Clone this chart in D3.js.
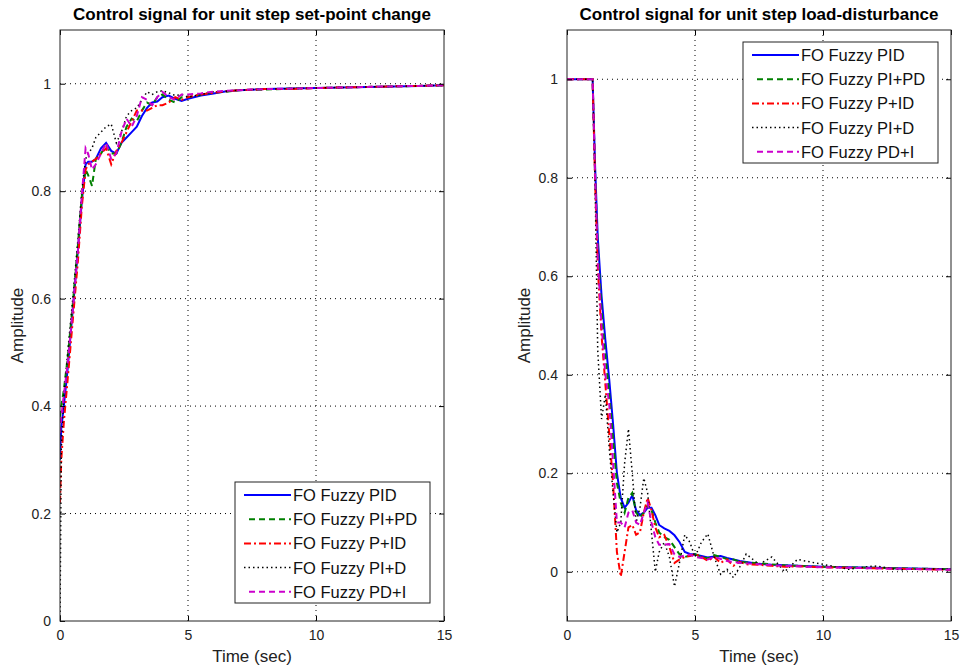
<!DOCTYPE html>
<html>
<head>
<meta charset="utf-8">
<script src="https://cdn.jsdelivr.net/npm/d3@7"></script>
<style>
  body { margin: 0; background: #fff; }
  svg { font-family: "Liberation Sans", Arial, sans-serif; }
  .tick text { font-size: 14px; fill: #222; }
  .title { font-size: 17px; font-weight: bold; }
  .axlabel { font-size: 17px; fill: #222; }
  .legend text { font-size: 16.5px; fill: #111; }
</style>
</head>
<body>
<script>
// series names, shared by both panels
const names = ['FO Fuzzy PID', 'FO Fuzzy PI+PD', 'FO Fuzzy P+ID', 'FO Fuzzy PI+D', 'FO Fuzzy PD+I']

// set-point change (left panel)
const tSet = [0, 0.05, 0.15, 0.3, 0.5, 0.7, 0.85, 1.0, 1.1, 1.25, 1.4, 1.6, 1.8, 2.0, 2.2, 2.4, 2.6, 2.8, 3.0, 3.2,
  3.4, 3.6, 3.8, 4.0, 4.25, 4.5, 4.75, 5.0, 5.5, 6, 6.5, 7, 8, 9, 10, 11, 12, 13, 14, 15]
const setPID = [0.30, 0.36, 0.40, 0.47, 0.58, 0.69, 0.78, 0.85, 0.855, 0.855, 0.86, 0.88, 0.89, 0.875, 0.87, 0.89, 0.90, 0.91, 0.92, 0.94,
  0.955, 0.965, 0.967, 0.975, 0.978, 0.972, 0.968, 0.972, 0.978, 0.982, 0.986, 0.988, 0.99, 0.991, 0.992, 0.993, 0.994, 0.995, 0.996, 0.997]
const setPIPD = [0.38, 0.40, 0.43, 0.49, 0.59, 0.70, 0.79, 0.84, 0.83, 0.81, 0.86, 0.87, 0.885, 0.87, 0.87, 0.89, 0.92, 0.935, 0.93, 0.95,
  0.965, 0.96, 0.975, 0.98, 0.97, 0.965, 0.975, 0.975, 0.98, 0.984, 0.985, 0.988, 0.989, 0.991, 0.992, 0.993, 0.994, 0.995, 0.996, 0.997]
const setPID2 = [0.22, 0.30, 0.37, 0.45, 0.56, 0.67, 0.77, 0.84, 0.85, 0.855, 0.86, 0.87, 0.88, 0.85, 0.875, 0.89, 0.91, 0.93, 0.95, 0.95,
  0.95, 0.955, 0.96, 0.96, 0.965, 0.975, 0.97, 0.975, 0.98, 0.983, 0.986, 0.988, 0.99, 0.99, 0.992, 0.993, 0.994, 0.995, 0.996, 0.997]
const setPID3 = [0.0, 0.32, 0.42, 0.50, 0.60, 0.71, 0.80, 0.86, 0.87, 0.88, 0.90, 0.91, 0.92, 0.925, 0.89, 0.91, 0.94, 0.95, 0.955, 0.97,
  0.985, 0.98, 0.985, 0.987, 0.983, 0.978, 0.98, 0.975, 0.98, 0.985, 0.986, 0.988, 0.99, 0.991, 0.992, 0.993, 0.994, 0.995, 0.996, 0.997]
const setPDI = [0.35, 0.38, 0.42, 0.48, 0.58, 0.69, 0.79, 0.88, 0.87, 0.84, 0.85, 0.87, 0.89, 0.86, 0.87, 0.91, 0.935, 0.92, 0.94, 0.975,
  0.97, 0.96, 0.975, 0.985, 0.975, 0.97, 0.98, 0.98, 0.982, 0.985, 0.987, 0.988, 0.99, 0.991, 0.992, 0.993, 0.994, 0.995, 0.996, 0.997]

// load disturbance (right panel)
const tLoad = [0, 1.0, 1.1, 1.2, 1.35, 1.5, 1.65, 1.8, 1.95, 2.1, 2.25, 2.4, 2.55, 2.7, 2.85, 3.0, 3.15, 3.3, 3.45, 3.6,
  3.8, 4.0, 4.2, 4.4, 4.6, 4.8, 5.0, 5.25, 5.5, 5.75, 6.0, 6.25, 6.5, 6.75, 7.0, 7.5, 8, 8.5, 9, 10, 11, 12, 13, 14, 15]
const loadPID = [1, 1, 0.82, 0.68, 0.56, 0.47, 0.39, 0.30, 0.20, 0.15, 0.13, 0.14, 0.155, 0.125, 0.115, 0.12, 0.13, 0.13, 0.115, 0.095,
  0.088, 0.083, 0.074, 0.06, 0.04, 0.036, 0.035, 0.032, 0.029, 0.031, 0.032, 0.028, 0.025, 0.022, 0.02, 0.016, 0.014, 0.013, 0.012, 0.01, 0.009, 0.008, 0.007, 0.006, 0.005]
const loadPIPD = [1, 1, 0.80, 0.66, 0.53, 0.44, 0.36, 0.27, 0.18, 0.14, 0.12, 0.15, 0.16, 0.12, 0.11, 0.12, 0.135, 0.125, 0.10, 0.08,
  0.07, 0.065, 0.05, 0.035, 0.03, 0.033, 0.036, 0.03, 0.027, 0.034, 0.03, 0.026, 0.025, 0.02, 0.019, 0.017, 0.015, 0.013, 0.012, 0.01, 0.009, 0.008, 0.007, 0.006, 0.005]
const loadPID2 = [1, 1, 0.79, 0.62, 0.48, 0.38, 0.28, 0.18, 0.04, -0.01, 0.04, 0.09, 0.095, 0.075, 0.08, 0.12, 0.15, 0.125, 0.09, 0.07,
  0.075, 0.05, 0.018, 0.025, 0.03, 0.032, 0.036, 0.03, 0.022, 0.03, 0.018, 0.025, 0.012, 0.02, 0.015, 0.014, 0.012, 0.01, 0.011, 0.009, 0.008, 0.007, 0.006, 0.005, 0.004]
const loadPID3 = [1, 1, 0.78, 0.45, 0.31, 0.36, 0.25, 0.16, 0.08, 0.10, 0.22, 0.29, 0.2, 0.10, 0.13, 0.19, 0.16, 0.08, 0.0, 0.04,
  0.06, 0.03, -0.03, 0.02, 0.075, 0.06, 0.03, 0.06, 0.077, 0.03, -0.005, 0.005, -0.012, 0.01, 0.036, 0.015, 0.03, 0.0, 0.025, 0.015, 0.005, 0.012, 0.004, 0.006, 0.005]
const loadPDI = [1, 1, 0.80, 0.64, 0.50, 0.40, 0.34, 0.22, 0.10, 0.10, 0.09, 0.12, 0.125, 0.10, 0.095, 0.12, 0.14, 0.10, 0.07, 0.055,
  0.055, 0.056, 0.035, 0.03, 0.033, 0.035, 0.03, 0.028, 0.025, 0.03, 0.026, 0.022, 0.02, 0.018, 0.017, 0.015, 0.013, 0.012, 0.011, 0.009, 0.008, 0.007, 0.006, 0.005, 0.004]

const xTicks = [0, 5, 10, 15]
const yTicks = [0, 0.2, 0.4, 0.6, 0.8, 1]

const styles = [
  { color: '#0000ff', dash: null, width: 2 },
  { color: '#008000', dash: '6,4', width: 2 },
  { color: '#ff0000', dash: '7,3,2,3', width: 2 },
  { color: '#000000', dash: '1.5,3', width: 1.5 },
  { color: '#cc00cc', dash: '6,4', width: 2 }
]

const width = 961
const height = 670

const svg = d3.select('body').append('svg')
  .attr('width', width)
  .attr('height', height)

function panel(opts) {
  const { left, right, top, bottom, ydomain, t, series, title, legend } = opts

  const x = d3.scaleLinear().domain([0, 15]).range([left, right])
  const y = d3.scaleLinear().domain(ydomain).range([bottom, top])

  const g = svg.append('g')

  // dotted grid
  g.append('g').selectAll('line.gx')
    .data(xTicks.slice(1, -1))
    .join('line')
      .attr('x1', d => x(d)).attr('x2', d => x(d))
      .attr('y1', top).attr('y2', bottom)
      .attr('stroke', '#000').attr('stroke-width', 1)
      .attr('stroke-dasharray', '1,4')
  g.append('g').selectAll('line.gy')
    .data(yTicks.filter(d => d > ydomain[0] && d < ydomain[1]))
    .join('line')
      .attr('x1', left).attr('x2', right)
      .attr('y1', d => y(d)).attr('y2', d => y(d))
      .attr('stroke', '#000').attr('stroke-width', 1)
      .attr('stroke-dasharray', '1,4')

  // lines
  const line = d3.line()
    .x((d, i) => x(t[i]))
    .y(d => y(d))

  const clipId = 'clip' + left
  svg.append('clipPath').attr('id', clipId)
    .append('rect').attr('x', left).attr('y', top)
    .attr('width', right - left).attr('height', bottom - top)

  g.append('g').attr('clip-path', 'url(#' + clipId + ')')
    .selectAll('path')
    .data(series)
    .join('path')
      .attr('d', d => line(d))
      .attr('fill', 'none')
      .attr('stroke', (d, i) => styles[i].color)
      .attr('stroke-width', (d, i) => styles[i].width)
      .attr('stroke-dasharray', (d, i) => styles[i].dash)

  // axes (inward ticks, mirrored)
  const ax = g.append('g').attr('transform', 'translate(0,' + bottom + ')')
    .call(d3.axisBottom(x).tickValues(xTicks).tickSizeInner(-5).tickSizeOuter(0).tickPadding(9).tickFormat(d3.format('d')))
  const axTop = g.append('g').attr('transform', 'translate(0,' + top + ')')
    .call(d3.axisTop(x).tickValues(xTicks).tickSizeInner(-5).tickSizeOuter(0).tickFormat(''))
  const ay = g.append('g').attr('transform', 'translate(' + left + ',0)')
    .call(d3.axisLeft(y).tickValues(yTicks).tickSizeInner(-5).tickSizeOuter(0).tickPadding(9).tickFormat(d => d))
  const ayR = g.append('g').attr('transform', 'translate(' + right + ',0)')
    .call(d3.axisRight(y).tickValues(yTicks).tickSizeInner(-5).tickSizeOuter(0).tickFormat(''))
  ;[ax, axTop, ay, ayR].forEach(a => {
    a.select('.domain').remove()
    a.selectAll('.tick line').attr('stroke', '#000')
  })

  g.append('rect')
    .attr('x', left).attr('y', top)
    .attr('width', right - left).attr('height', bottom - top)
    .attr('fill', 'none').attr('stroke', '#222').attr('stroke-width', 1)

  g.append('text').attr('class', 'title')
    .attr('x', (left + right) / 2).attr('y', 20)
    .attr('text-anchor', 'middle')
    .text(title)

  g.append('text').attr('class', 'axlabel')
    .attr('x', (left + right) / 2).attr('y', 662)
    .attr('text-anchor', 'middle')
    .text('Time (sec)')

  g.append('text').attr('class', 'axlabel')
    .attr('transform', 'translate(' + (left - 37) + ',' + ((top + bottom) / 2) + ') rotate(-90)')
    .attr('text-anchor', 'middle')
    .text('Amplitude')

  // legend
  const lg = g.append('g').attr('class', 'legend')
  lg.append('rect')
    .attr('x', legend.x).attr('y', legend.y)
    .attr('width', 195).attr('height', 121)
    .attr('fill', '#fff').attr('stroke', '#222').attr('stroke-width', 1)
  const row = lg.selectAll('g.row')
    .data(names)
    .join('g')
      .attr('transform', (d, i) => 'translate(' + legend.x + ',' + (legend.y + 13 + i * 24.2) + ')')
  row.append('line')
    .attr('x1', (d, i) => (i === 1 || i === 4) ? 14 : 9).attr('x2', 56)
    .attr('stroke', (d, i) => styles[i].color)
    .attr('stroke-width', (d, i) => styles[i].width)
    .attr('stroke-dasharray', (d, i) => styles[i].dash)
  row.append('text')
    .attr('x', 58).attr('dy', '0.36em')
    .text(d => d)
}

panel({
  left: 60, right: 444, top: 30, bottom: 621,
  ydomain: [0, 1.1], t: tSet,
  series: [setPID, setPIPD, setPID2, setPID3, setPDI],
  title: 'Control signal for unit step set-point change',
  legend: { x: 235, y: 482 }
})

panel({
  left: 567, right: 951, top: 30, bottom: 621,
  ydomain: [-0.1, 1.1], t: tLoad,
  series: [loadPID, loadPIPD, loadPID2, loadPID3, loadPDI],
  title: 'Control signal for unit step load-disturbance',
  legend: { x: 743, y: 42 }
})
</script>
</body>
</html>
